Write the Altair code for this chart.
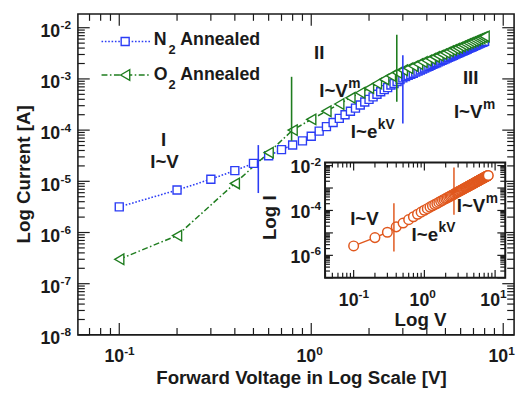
import altair as alt
import pandas as pd

# ------------------------------------------------------------------ data
n2_voltage = [0.1, 0.2, 0.3, 0.4, 0.5, 0.6, 0.7, 0.8, 0.9, 1.0,
              1.1, 1.2, 1.3, 1.4, 1.5, 1.6, 1.7, 1.8, 1.9, 2.0,
              2.1, 2.2, 2.3, 2.4, 2.5, 2.6, 2.7, 2.8, 2.9, 3.0,
              3.1, 3.2, 3.3, 3.4, 3.5, 3.6, 3.7, 3.8, 3.9, 4.0,
              4.1, 4.2, 4.3, 4.4, 4.5, 4.6, 4.7, 4.8, 4.9, 5.0,
              5.1, 5.2, 5.3, 5.4, 5.5, 5.6, 5.7, 5.8, 5.9, 6.0,
              6.1, 6.2, 6.3, 6.4, 6.5, 6.6, 6.7, 6.8, 6.9, 7.0,
              7.1, 7.2, 7.3, 7.4, 7.5, 7.6, 7.7, 7.8, 7.9, 8.0]
n2_current = [3.16e-6, 6.76e-6, 1.10e-5, 1.62e-5, 2.24e-5, 3.16e-5, 4.17e-5, 5.13e-5, 6.17e-5, 7.59e-5,
              9.55e-5, 1.17e-4, 1.41e-4, 1.70e-4, 2.00e-4, 2.34e-4, 2.69e-4, 3.09e-4, 3.55e-4, 3.98e-4,
              4.47e-4, 5.01e-4, 5.62e-4, 6.17e-4, 6.76e-4, 7.59e-4, 8.13e-4, 8.91e-4, 9.77e-4, 1.05e-3,
              1.11e-3, 1.17e-3, 1.23e-3, 1.29e-3, 1.36e-3, 1.42e-3, 1.49e-3, 1.56e-3, 1.63e-3, 1.70e-3,
              1.77e-3, 1.84e-3, 1.92e-3, 2.00e-3, 2.07e-3, 2.15e-3, 2.23e-3, 2.31e-3, 2.39e-3, 2.47e-3,
              2.55e-3, 2.64e-3, 2.72e-3, 2.81e-3, 2.90e-3, 2.99e-3, 3.08e-3, 3.17e-3, 3.27e-3, 3.36e-3,
              3.45e-3, 3.55e-3, 3.64e-3, 3.74e-3, 3.84e-3, 3.94e-3, 4.04e-3, 4.14e-3, 4.25e-3, 4.35e-3,
              4.46e-3, 4.56e-3, 4.67e-3, 4.78e-3, 4.89e-3, 4.99e-3, 5.11e-3, 5.21e-3, 5.32e-3, 5.44e-3]

o2_voltage = [0.1, 0.2, 0.4, 0.6, 0.8, 1.0, 1.2, 1.4, 1.6, 1.8, 2.0,
              2.2, 2.4, 2.6, 2.8, 3.0, 3.2, 3.4, 3.6, 3.8, 4.0,
              4.2, 4.4, 4.6, 4.8, 5.0, 5.2, 5.4, 5.6, 5.8, 6.0,
              6.2, 6.4, 6.6, 6.8, 7.0, 7.2, 7.4, 7.6, 7.8, 8.0]
o2_current = [3.0e-7, 8.7e-7, 9.1e-6, 3.63e-5, 1.0e-4, 1.62e-4, 2.34e-4, 3.24e-4, 4.27e-4, 5.37e-4, 6.61e-4,
              8.13e-4, 9.77e-4, 1.15e-3, 1.32e-3, 1.48e-3, 1.62e-3, 1.78e-3, 1.95e-3, 2.14e-3, 2.29e-3,
              2.48e-3, 2.69e-3, 2.85e-3, 3.05e-3, 3.24e-3, 3.47e-3, 3.67e-3, 3.89e-3, 4.07e-3, 4.32e-3,
              4.57e-3, 4.79e-3, 5.01e-3, 5.25e-3, 5.50e-3, 5.75e-3, 6.03e-3, 6.24e-3, 6.53e-3, 6.76e-3]

inset_voltage = [0.1, 0.2, 0.3, 0.4, 0.5, 0.6, 0.7, 0.8, 0.9, 1.0,
                 1.1, 1.2, 1.3, 1.4, 1.5, 1.6, 1.7, 1.8, 1.9, 2.0,
                 2.1, 2.2, 2.3, 2.4, 2.5, 2.6, 2.7, 2.8, 2.9, 3.0,
                 3.1, 3.2, 3.3, 3.4, 3.5, 3.6, 3.7, 3.8, 3.9, 4.0,
                 4.1, 4.2, 4.3, 4.4, 4.5, 4.6, 4.7, 4.8, 4.9, 5.0,
                 5.1, 5.2, 5.3, 5.4, 5.5, 5.6, 5.7, 5.8, 5.9, 6.0,
                 6.1, 6.2, 6.3, 6.4, 6.5, 6.6, 6.7, 6.8, 6.9, 7.0,
                 7.1, 7.2, 7.3, 7.4, 7.5, 7.6, 7.7, 7.8, 7.9, 8.0]
inset_current = [2.63e-6, 6.17e-6, 1.07e-5, 1.86e-5, 2.75e-5, 3.89e-5, 5.25e-5, 6.76e-5, 8.41e-5, 1.02e-4,
                 1.20e-4, 1.41e-4, 1.62e-4, 1.82e-4, 2.04e-4, 2.29e-4, 2.57e-4, 2.82e-4, 3.09e-4, 3.39e-4,
                 3.63e-4, 3.98e-4, 4.27e-4, 4.57e-4, 4.90e-4, 5.25e-4, 5.62e-4, 6.03e-4, 6.38e-4, 6.76e-4,
                 7.16e-4, 7.59e-4, 7.94e-4, 8.41e-4, 8.81e-4, 9.23e-4, 9.77e-4, 1.02e-3, 1.06e-3, 1.11e-3,
                 1.16e-3, 1.20e-3, 1.26e-3, 1.30e-3, 1.36e-3, 1.41e-3, 1.46e-3, 1.51e-3, 1.58e-3, 1.62e-3,
                 1.68e-3, 1.74e-3, 1.80e-3, 1.86e-3, 1.93e-3, 2.00e-3, 2.04e-3, 2.11e-3, 2.16e-3, 2.24e-3,
                 2.29e-3, 2.37e-3, 2.43e-3, 2.51e-3, 2.57e-3, 2.63e-3, 2.69e-3, 2.75e-3, 2.85e-3, 2.92e-3,
                 2.99e-3, 3.05e-3, 3.13e-3, 3.20e-3, 3.27e-3, 3.35e-3, 3.43e-3, 3.51e-3, 3.59e-3, 3.63e-3]

# vertical regime boundaries
guide_voltage = [0.53, 0.79, 2.79, 3.0]
guide_low = [5.9e-6, 6.2e-5, 3.6e-4, 1.35e-4]
guide_high = [5.1e-5, 1.1e-3, 7.3e-3, 2.9e-3]
guide_series = ["N2", "O2", "O2", "N2"]

inset_guide_voltage = [0.371, 2.62]
inset_guide_low = [1.5e-6, 6.5e-5]
inset_guide_high = [2.1e-4, 8.2e-3]

# annotations
region_text = ["I", "I~V", "II", "III"]
region_voltage = [0.170, 0.172, 1.10, 6.77]
region_current = [4.9e-5, 1.8e-5, 2.4e-3, 8.0e-4]

law_base = ["I~V", "I~e", "I~V"]
law_sup = ["m", "kV", "m"]
law_voltage = [1.55, 2.21, 7.8]
law_current = [4.5e-4, 7.0e-5, 1.7e-4]

inset_region_text = ["I~V"]
inset_region_voltage = [0.142]
inset_region_current = [2.3e-5]

inset_law_base = ["I~e", "I~V"]
inset_law_sup = ["kV", "m"]
inset_law_voltage = [1.56, 7.26]
inset_law_current = [4.2e-6, 8.7e-5]

# ticks and tick labels
x_major = [0.1, 1, 10]
x_exp = ["-1", "0", "1"]
x_minor = [m * 10.0 ** e for e in (-2, -1, 0) for m in range(2, 10) if 0.0609 < m * 10.0 ** e < 11.39]
y_major = [1e-8, 1e-7, 1e-6, 1e-5, 1e-4, 1e-3, 1e-2]
y_exp = ["-8", "-7", "-6", "-5", "-4", "-3", "-2"]
y_minor = [m * 10.0 ** e for e in range(-8, -1) for m in range(2, 10) if m * 10.0 ** e < 1.86e-2]

inset_x_major = [0.1, 1, 10]
inset_x_exp = ["-1", "0", "1"]
inset_x_minor = [m * 10.0 ** e for e in (-2, -1, 0) for m in range(2, 10) if 0.0394 < m * 10.0 ** e < 13.9]
inset_y_major = [1e-7, 1e-6, 1e-5, 1e-4, 1e-3, 1e-2]
inset_y_minor = [m * 10.0 ** e for e in range(-7, -1) for m in range(2, 10) if m * 10.0 ** e < 1.355e-2]
inset_y_label_values = [1e-6, 1e-4, 1e-2]
inset_y_exp = ["-6", "-4", "-2"]

# ------------------------------------------------------------------ style
FONT = "Liberation Sans"
INK = "#1a1a1a"
BLUE = "#2b3cf5"
GREEN = "#1f7d1f"
ORANGE = "#e0581e"

W, H = 443, 326
IL, IR, IT, IB = 251, 434, 151, 268

XM = alt.Scale(type="log", domain=[0.0609, 11.39], nice=False)
YM = alt.Scale(type="log", domain=[1e-8, 1.86e-2], nice=False)
XI = alt.Scale(type="log", domain=[0.0394, 13.9], nice=False, range=[IL, IR])
YI = alt.Scale(type="log", domain=[1e-7, 1.355e-2], nice=False, range=[IB, IT])

ONE = pd.DataFrame({"k": [0]})


def X(field, scale):
    return alt.X(field, type="quantitative", scale=scale, axis=None)


def Y(field, scale):
    return alt.Y(field, type="quantitative", scale=scale, axis=None)


def hticks(values, xs, edge, length, width=1.2):
    return alt.Chart(pd.DataFrame({"v": values})).mark_rule(color=INK, strokeWidth=width).encode(
        x=X("v", xs), y=alt.value(edge), y2=alt.value(edge + length))


def vticks(values, ys, edge, length, width=1.2):
    return alt.Chart(pd.DataFrame({"v": values})).mark_rule(color=INK, strokeWidth=width).encode(
        y=Y("v", ys), x=alt.value(edge), x2=alt.value(edge + length))


def label(text, x, y, size=19, align="center", baseline="alphabetic", angle=0):
    return alt.Chart(ONE).mark_text(text=text, font=FONT, fontSize=size, fontWeight="bold",
                                    align=align, baseline=baseline, angle=angle, color=INK).encode(
        x=alt.value(x), y=alt.value(y))


def data_text(df, xs, ys, field, size, align, dx=0, dy=0):
    return alt.Chart(df).mark_text(font=FONT, fontSize=size, fontWeight="bold", align=align,
                                   baseline="alphabetic", color=INK, dx=dx, dy=dy).encode(
        x=X("V", xs), y=Y("I", ys), text=alt.Text(field, type="nominal"))


layers = []

# ------------------------------------------------------------------ main series
n2 = pd.DataFrame({"V": n2_voltage, "I": n2_current})
o2 = pd.DataFrame({"V": o2_voltage, "I": o2_current})

layers.append(alt.Chart(n2).mark_line(color=BLUE, strokeWidth=1.6, strokeDash=[1.6, 1.8]).encode(
    x=X("V", XM), y=Y("I", YM)))
layers.append(alt.Chart(o2).mark_line(color=GREEN, strokeWidth=1.5, strokeDash=[6, 2.5, 1.6, 2.5]).encode(
    x=X("V", XM), y=Y("I", YM)))
layers.append(alt.Chart(n2).mark_point(shape="square", size=66, filled=True, fill="white", stroke=BLUE,
                                       strokeWidth=1.4, opacity=1).encode(x=X("V", XM), y=Y("I", YM)))
layers.append(alt.Chart(o2).mark_point(shape="triangle-left", size=115, filled=True, fill="white",
                                       stroke=GREEN, strokeWidth=1.4, opacity=1).encode(
    x=X("V", XM), y=Y("I", YM)))

guides = pd.DataFrame({"V": guide_voltage, "lo": guide_low, "hi": guide_high, "s": guide_series})
layers.append(alt.Chart(guides).mark_rule(strokeWidth=1.6).encode(
    x=X("V", XM), y=Y("lo", YM), y2="hi",
    color=alt.Color("s:N", scale=alt.Scale(domain=["N2", "O2"], range=[BLUE, GREEN]), legend=None)))

# main ticks (inward, all four sides)
layers += [hticks(x_major, XM, H, -12), hticks(x_minor, XM, H, -7),
           hticks(x_major, XM, 0, 12), hticks(x_minor, XM, 0, 7),
           vticks(y_major, YM, 0, 12), vticks(y_minor, YM, 0, 7),
           vticks(y_major, YM, W, -12), vticks(y_minor, YM, W, -7)]

# main tick labels
xl = pd.DataFrame({"V": x_major, "b": ["10"] * 3, "e": x_exp})
layers.append(alt.Chart(xl).mark_text(font=FONT, fontSize=18, fontWeight="bold", align="right",
                                      baseline="alphabetic", color=INK, dx=5).encode(
    x=X("V", XM), y=alt.value(354), text="b:N"))
layers.append(alt.Chart(xl).mark_text(font=FONT, fontSize=12, fontWeight="bold", align="left",
                                      baseline="alphabetic", color=INK, dx=5).encode(
    x=X("V", XM), y=alt.value(346), text="e:N"))
yl = pd.DataFrame({"I": y_major, "b": ["10"] * len(y_major), "e": y_exp})
layers.append(alt.Chart(yl).mark_text(font=FONT, fontSize=18, fontWeight="bold", align="right",
                                      baseline="alphabetic", color=INK, dy=9.5).encode(
    y=Y("I", YM), x=alt.value(-18), text="b:N"))
layers.append(alt.Chart(yl).mark_text(font=FONT, fontSize=12, fontWeight="bold", align="right",
                                      baseline="alphabetic", color=INK, dy=1.5).encode(
    y=Y("I", YM), x=alt.value(-7), text="e:N"))

# axis titles
layers.append(label("Forward Voltage in Log Scale [V]", 227, 376))
layers.append(label("Log Current [A]", -55, 163, baseline="middle", angle=270))

# region annotations
reg = pd.DataFrame({"V": region_voltage, "I": region_current, "t": region_text})
layers.append(data_text(reg, XM, YM, "t", 19, "center"))
law = pd.DataFrame({"V": law_voltage, "I": law_current, "b": law_base, "s": law_sup})
layers.append(data_text(law, XM, YM, "b", 19, "right"))
layers.append(data_text(law, XM, YM, "s", 14, "left", dx=0.5, dy=-9))

# legend
layers.append(alt.Chart(ONE).mark_rule(color=BLUE, strokeWidth=1.6, strokeDash=[1.6, 1.8]).encode(
    x=alt.value(24), x2=alt.value(74), y=alt.value(28)))
layers.append(alt.Chart(ONE).mark_point(shape="square", size=66, filled=True, fill="white", stroke=BLUE,
                                        strokeWidth=1.4, opacity=1).encode(x=alt.value(48), y=alt.value(28)))
layers.append(alt.Chart(ONE).mark_rule(color=GREEN, strokeWidth=1.5, strokeDash=[6, 2.5, 1.6, 2.5]).encode(
    x=alt.value(24), x2=alt.value(74), y=alt.value(62)))
layers.append(alt.Chart(ONE).mark_point(shape="triangle-left", size=115, filled=True, fill="white",
                                        stroke=GREEN, strokeWidth=1.4, opacity=1).encode(
    x=alt.value(48), y=alt.value(62)))
layers += [label("N", 77, 32, 18, "left"), label("2", 92, 41, 13, "left"), label("Annealed", 104, 32, 18, "left"),
           label("O", 77, 67, 18, "left"), label("2", 92, 76, 13, "left"), label("Annealed", 104, 67, 18, "left")]

# ------------------------------------------------------------------ inset
layers.append(alt.Chart(ONE).mark_rect(fill="white", stroke=INK, strokeWidth=2).encode(
    x=alt.value(IL), x2=alt.value(IR), y=alt.value(IT), y2=alt.value(IB)))
ins = pd.DataFrame({"V": inset_voltage, "I": inset_current})
layers.append(alt.Chart(ins).mark_line(color=ORANGE, strokeWidth=1.5).encode(x=X("V", XI), y=Y("I", YI)))
layers.append(alt.Chart(ins).mark_point(shape="circle", size=95, filled=True, fill="white", stroke=ORANGE,
                                        strokeWidth=1.5, opacity=1).encode(x=X("V", XI), y=Y("I", YI)))
ig = pd.DataFrame({"V": inset_guide_voltage, "lo": inset_guide_low, "hi": inset_guide_high})
layers.append(alt.Chart(ig).mark_rule(color=ORANGE, strokeWidth=1.5).encode(
    x=X("V", XI), y=Y("lo", YI), y2="hi"))

layers += [hticks(inset_x_major, XI, IB, -8), hticks(inset_x_minor, XI, IB, -5),
           hticks(inset_x_major, XI, IT, 8), hticks(inset_x_minor, XI, IT, 5),
           vticks(inset_y_major, YI, IL, 8), vticks(inset_y_minor, YI, IL, 5),
           vticks(inset_y_major, YI, IR, -8), vticks(inset_y_minor, YI, IR, -5)]

ixl = pd.DataFrame({"V": inset_x_major, "b": ["10"] * 3, "e": inset_x_exp})
layers.append(alt.Chart(ixl).mark_text(font=FONT, fontSize=18, fontWeight="bold", align="right",
                                       baseline="alphabetic", color=INK, dx=5).encode(
    x=X("V", XI), y=alt.value(297), text="b:N"))
layers.append(alt.Chart(ixl).mark_text(font=FONT, fontSize=12, fontWeight="bold", align="left",
                                       baseline="alphabetic", color=INK, dx=5).encode(
    x=X("V", XI), y=alt.value(289), text="e:N"))
iyl = pd.DataFrame({"I": inset_y_label_values, "b": ["10"] * 3, "e": inset_y_exp})
layers.append(alt.Chart(iyl).mark_text(font=FONT, fontSize=18, fontWeight="bold", align="right",
                                       baseline="alphabetic", color=INK, dy=8).encode(
    y=Y("I", YI), x=alt.value(IL - 15), text="b:N"))
layers.append(alt.Chart(iyl).mark_text(font=FONT, fontSize=12, fontWeight="bold", align="right",
                                       baseline="alphabetic", color=INK, dy=0).encode(
    y=Y("I", YI), x=alt.value(IL - 4), text="e:N"))
layers.append(label("Log V", 348, 317))
layers.append(label("Log I", 195, 207, baseline="middle", angle=270))

ireg = pd.DataFrame({"V": inset_region_voltage, "I": inset_region_current, "t": inset_region_text})
layers.append(data_text(ireg, XI, YI, "t", 19, "center"))
ilaw = pd.DataFrame({"V": inset_law_voltage, "I": inset_law_current, "b": inset_law_base, "s": inset_law_sup})
layers.append(data_text(ilaw, XI, YI, "b", 19, "right"))
layers.append(data_text(ilaw, XI, YI, "s", 14, "left", dx=0.5, dy=-9))

chart = alt.layer(*layers).resolve_scale(x="independent", y="independent").properties(
    width=W, height=H,
    padding={"left": 71, "top": 3, "right": 5, "bottom": 57},
    autosize=alt.AutoSizeParams(type="none"),
    background="white",
).configure_view(stroke=INK, strokeWidth=1.6)

chart.save("out.html", embed_options={"renderer": "svg", "actions": False})
